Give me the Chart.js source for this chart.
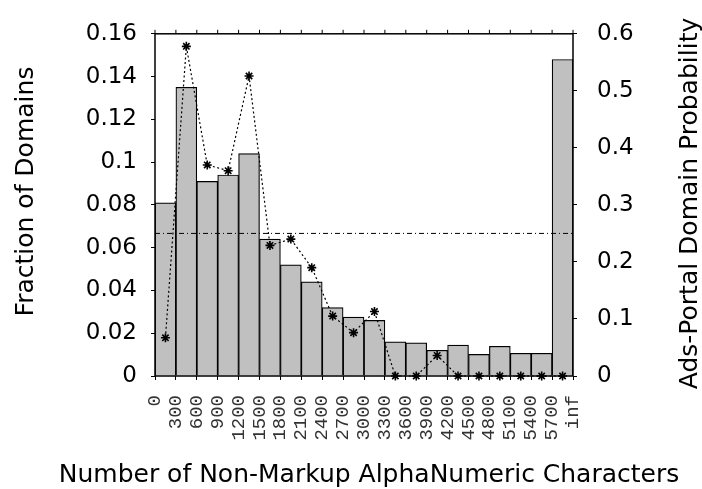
<!DOCTYPE html>
<html>
<head>
<meta charset="utf-8">
<script src="https://cdn.jsdelivr.net/npm/chart.js@4.4.1/dist/chart.umd.min.js"></script>
<style>
  html, body { margin: 0; padding: 0; background: #fff; }
  #wrap { width: 702px; height: 489px; }
</style>
</head>
<body>
<div id="wrap"><canvas id="chart" width="702" height="489"></canvas></div>
<script>
// Bin edges (labels sit on the bar boundaries, last one is open-ended)
const binEdges = ['0', '300', '600', '900', '1200', '1500', '1800', '2100', '2400', '2700',
    '3000', '3300', '3600', '3900', '4200', '4500', '4800', '5100', '5400', '5700', 'inf'];

// Fraction of domains in each bin (left axis)
const domainFraction = [0.081, 0.135, 0.091, 0.094, 0.104, 0.064, 0.052, 0.044, 0.032, 0.0275,
    0.026, 0.016, 0.0155, 0.012, 0.0144, 0.0101, 0.0139, 0.0106, 0.0106, 0.148];

// Ads-portal probability for each bin (right axis)
const adsProbability = [0.067, 0.578, 0.370, 0.360, 0.526, 0.229, 0.240, 0.190, 0.105, 0.076,
    0.113, 0, 0, 0.036, 0, 0, 0, 0, 0, 0];

// Overall ads-portal probability (horizontal reference line, right axis)
const thresholdLevel = 0.25;

const xTitle = 'Number of Non-Markup AlphaNumeric Characters';
const yTitle = 'Fraction of Domains';
const y2Title = 'Ads-Portal Domain Probability';

const numFont = { family: 'DejaVu Sans', size: 23 };
const titleFont = '25px "DejaVu Sans"';

// Frame, ticks along the top edge and the three axis titles
const framePlugin = {
    id: 'frame',
    afterDatasetsDraw(chart) {
        const { ctx, chartArea: a } = chart;
        const xt = chart.scales.xt;
        ctx.save();
        ctx.strokeStyle = '#000';
        ctx.lineWidth = 1.5;
        ctx.strokeRect(a.left, a.top, a.right - a.left, a.bottom - a.top);
        ctx.lineWidth = 1;
        ctx.beginPath();
        xt.ticks.forEach(t => {
            const px = xt.getPixelForValue(t.value);
            ctx.moveTo(px, a.top);
            ctx.lineTo(px, a.top - 4);
        });
        ctx.stroke();
        ctx.restore();
    },
    afterDraw(chart) {
        const { ctx } = chart;
        ctx.save();
        ctx.fillStyle = '#000';
        ctx.font = titleFont;
        ctx.textAlign = 'center';
        ctx.textBaseline = 'alphabetic';
        ctx.fillText(xTitle, 369, 482);

        ctx.save();
        ctx.translate(33, 191.5);
        ctx.rotate(-Math.PI / 2);
        ctx.fillText(yTitle, 0, 0);
        ctx.restore();

        ctx.translate(697, 203.5);
        ctx.rotate(-Math.PI / 2);
        ctx.fillText(y2Title, 0, 0);
        ctx.restore();
    }
};

const fmt = v => String(parseFloat(v.toFixed(2)));

const ctx = document.getElementById('chart').getContext('2d');
const chart = new Chart(ctx, {
    type: 'bar',
    data: {
        labels: binEdges.slice(0, -1),
        datasets: [
            {
                type: 'line',
                data: adsProbability,
                yAxisID: 'y2',
                xAxisID: 'x',
                borderColor: '#000',
                borderWidth: 1.2,
                borderDash: [2, 2.5],
                pointStyle: 'star',
                pointRadius: 4.5,
                pointBorderWidth: 1.6,
                pointBorderColor: '#000',
                pointBackgroundColor: '#000',
                tension: 0,
                clip: false,
                order: 1
            },
            {
                type: 'line',
                data: [{ x: 0, y: thresholdLevel }, { x: binEdges.length - 1, y: thresholdLevel }],
                yAxisID: 'y2',
                xAxisID: 'xt',
                borderColor: '#000',
                borderWidth: 1,
                borderDash: [5, 3, 1, 3],
                pointRadius: 0,
                order: 2
            },
            {
                data: domainFraction,
                yAxisID: 'y',
                xAxisID: 'x',
                backgroundColor: '#c0c0c0',
                borderColor: '#000',
                borderWidth: 1.2,
                barPercentage: 1,
                categoryPercentage: 1,
                grouped: false,
                order: 3
            }
        ]
    },
    options: {
        responsive: false,
        animation: false,
        devicePixelRatio: 1,
        layout: { padding: { top: 17, left: 0, right: 0, bottom: 0 } },
        plugins: {
            legend: { display: false },
            tooltip: { enabled: false }
        },
        scales: {
            x: { display: false, offset: true },
            xt: {
                type: 'linear',
                position: 'bottom',
                offset: false,
                min: 0,
                max: binEdges.length - 1,
                border: { display: false },
                grid: { offset: false, drawOnChartArea: false, drawTicks: true, tickLength: 4, color: '#000' },
                ticks: {
                    stepSize: 1,
                    autoSkip: false,
                    maxRotation: 90,
                    minRotation: 90,
                    padding: 15,
                    labelOffset: 0,
                    color: '#333',
                    font: { family: 'Liberation Mono', size: 19 },
                    callback: v => binEdges[v]
                },
                afterFit: s => { s.height = 113; }
            },
            y: {
                position: 'left',
                min: 0,
                max: 0.16,
                border: { display: false },
                grid: { drawOnChartArea: false, drawTicks: true, tickLength: 4, color: '#000' },
                ticks: { stepSize: 0.02, padding: 14, color: '#000', font: numFont, callback: fmt },
                afterFit: s => { s.width = 155; }
            },
            y2: {
                position: 'right',
                min: 0,
                max: 0.6,
                border: { display: false },
                grid: { drawOnChartArea: false, drawTicks: true, tickLength: 4, color: '#000' },
                ticks: { stepSize: 0.1, padding: 20, color: '#000', font: numFont, callback: fmt },
                afterFit: s => { s.width = 129; }
            }
        }
    },
    plugins: [framePlugin]
});
</script>
</body>
</html>
